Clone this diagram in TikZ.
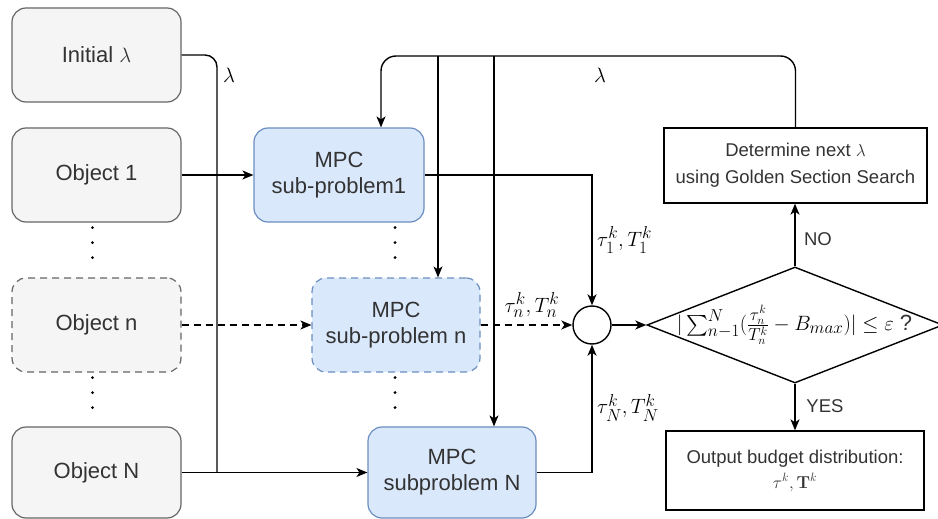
\documentclass[tikz,border=0pt]{standalone}
\usepackage{amsmath}
\usepackage{exscale}
\usepackage[no-math]{fontspec}
\setmainfont{Liberation Sans}
\usetikzlibrary{arrows.meta,calc,shapes.geometric}
\DeclareMathSizes{22}{22}{17.5}{13}
\definecolor{objfill}{HTML}{F5F5F5}
\definecolor{objline}{HTML}{666666}
\definecolor{mpcfill}{HTML}{DAE8FC}
\definecolor{mpcline}{HTML}{6C8EBF}
\definecolor{txt}{HTML}{333333}
\tikzset{
  obj/.style={draw=objline, fill=objfill, rounded corners=14pt, minimum width=169pt, minimum height=94pt, line width=1.2pt, text=txt, font=\fontsize{22}{26}\selectfont, align=center, inner sep=0pt},
  mpc/.style={obj, draw=mpcline, fill=mpcfill, minimum width=170pt},
  plainbox/.style={draw=black, line width=1.3pt, text=txt, align=center, inner sep=0pt},
  conn/.style={line width=1.4pt},
  arr/.style={conn, -{Stealth[length=11pt,width=9pt,inset=3pt]}},
  dashln/.style={dash pattern=on 7pt off 5pt},
  dotln/.style={line width=3.2pt, line cap=round, dash pattern=on 0pt off 15pt},
  lbl/.style={font=\fontsize{22}{26}\selectfont, inner sep=0pt},
  smalltxt/.style={font=\fontsize{18.5}{24}\selectfont, text=txt, inner sep=0pt},
}
\begin{document}
\begin{tikzpicture}[x=1pt,y=-1pt]
\useasboundingbox (0,0) rectangle (938,519);
% left column
\node[obj] (init) at (96.5,55) {Initial $\lambda$};
\node[obj] (obj1) at (96.5,175) {Object 1};
\node[obj, dashln] (objn) at (96.5,325) {Object n};
\node[obj, minimum height=91pt] (objN) at (96.5,472.5) {Object N};
% MPC column
\node[mpc] (mpc1) at (339,175) {MPC\\sub-problem1};
\node[mpc, dashln, minimum width=168pt] (mpcn) at (396,325) {MPC\\sub-problem n};
\node[mpc, minimum width=168pt, minimum height=91pt] (mpcN) at (452,472.5) {MPC\\subproblem N};
% summation and decision
\node[circle, draw, line width=1.4pt, minimum size=38pt, inner sep=0pt] (sum) at (592,325) {};
\node[diamond, draw, line width=1.4pt, minimum width=296pt, minimum height=116pt, inner sep=0pt] (dia) at (795,325) {};
\node[inner sep=0pt, font=\fontsize{22}{26}\selectfont] (cond) at (794.5,325) {$|\sum_{n-1}^{N}(\frac{\tau_n^k}{T_n^k}-B_{max})|\leq\varepsilon$ \textcolor{txt}{?}};
\node[plainbox, minimum width=263pt, minimum height=75pt, font=\fontsize{18.5}{27}\selectfont] (det) at (795.5,165.5) {Determine next $\lambda$\\using Golden Section Search};
\node[plainbox, minimum width=258pt, minimum height=79pt, font=\fontsize{18.5}{25}\selectfont] (out) at (795,470.5) {Output budget distribution:\\$\tau^k,\mathbf{T}^k$};
% dots
\draw[dotln] ($(obj1.south)+(-4,5)$) -- ($(objn.north)+(-4,-6)$);
\draw[dotln] ($(objn.south)+(-4,5)$) -- ($(objN.north)+(-4,-6)$);
\draw[dotln] ($(mpc1.south)+(56,5)$) -- ($(mpcn.north)+(-1,-6)$);
\draw[dotln] ($(mpcn.south)+(-1,5)$) -- ($(mpcN.north)+(-57,-6)$);
% lambda from initial
\coordinate (jl) at (217,55);
\coordinate (jN) at (217,472.5);
\draw[conn, rounded corners=12pt] (init.east) -- (jl) -- (jN);
\node[lbl] (lam1) at (229,75) {$\lambda$};
% object inputs
\draw[arr] (obj1.east) -- (mpc1.west);
\draw[arr, dashln] (objn.east) -- (mpcn.west);
\draw[arr] (objN.east) -- (mpcN.west);
% feedback
\coordinate (fb) at (381,56);
\coordinate (b1) at (438,56);
\coordinate (b2) at (494,56);
\draw[arr, rounded corners=15pt] (det.north) |- (fb) -- (fb |- mpc1.north);
\draw[arr] (b1) -- (b1 |- mpcn.north);
\draw[arr] (b2) -- (b2 |- mpcN.north);
\node[lbl] (lam2) at (600,75) {$\lambda$};
% outputs to sum
\draw[arr] (mpc1.east) -| (sum.north);
\draw[arr, dashln] (mpcn.east) -- (sum.west);
\draw[arr] (mpcN.east) -| (sum.south);
\node[lbl, anchor=west] (l1) at (597,240) {$\tau_1^k{,}\,T_1^k$};
\node[lbl] (ln) at (532,305) {$\tau_n^k{,}\,T_n^k$};
\node[lbl, anchor=west] (lN) at (597,408) {$\tau_N^k{,}\,T_N^k$};
% decision arrows
\draw[arr] (sum.east) -- (dia.west);
\draw[arr] (dia.north) -- (dia.north |- det.south);
\draw[arr] (dia.south) -- (dia.south |- out.north);
\node[smalltxt] (no) at (818,239) {NO};
\node[smalltxt] (yes) at (825,406) {YES};
\end{tikzpicture}
\end{document}
